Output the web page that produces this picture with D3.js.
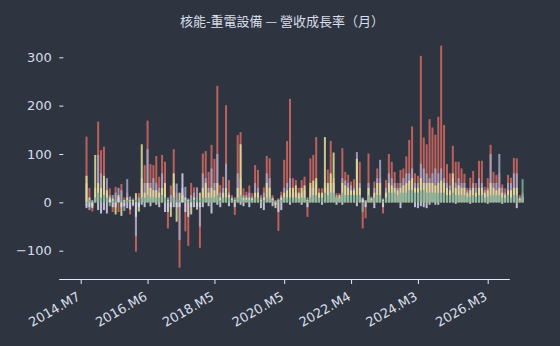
<!DOCTYPE html>
<html>
<head>
<meta charset="utf-8">
<script src="https://cdn.jsdelivr.net/npm/d3@7"></script>
<style>
  body { margin: 0; background: #2e3440; }
  text { font-family: "DejaVu Sans", sans-serif; }
</style>
</head>
<body>
<div id="chart"></div>
<script>
// first month that has data, and the labels under the x axis
const firstMonth = "2014.M9";
const tickLabels = ["2014.M7", "2016.M6", "2018.M5", "2020.M5", "2022.M4", "2024.M3", "2026.M3"];
const yTicks = [-100, 0, 100, 200, 300];

// monthly growth (%) per company
const red = [136, 30, -19, 20, 167, 108, 115, 20, 29, -20,
  32, -20, 38, 10, 20, -25, 8, -102, 19, 30,
  77, 169, 79, 77, 96, 53, 98, 84, -54, 35,
  110, 20, -135, 20, -60, -90, 40, 31, 10, -94,
  101, 106, 63, 119, 90, 241, 36, 53, 201, 46,
  15, -26, 139, 145, 29, 22, 35, 19, 77, 67,
  15, 31, 96, 91, 15, 5, -59, 22, 88, 127,
  214, 50, 46, 30, 46, 53, -30, 91, 98, 135,
  29, 29, 40, 68, 127, 50, 19, 19, 112, 63,
  57, 43, 48, 40, 84, -54, -33, 101, 12, 43,
  70, 50, -23, 46, 100, 84, 63, 40, 67, 70,
  95, 129, 157, 60, 55, 303, 134, 120, 172, 155,
  140, 177, 324, 160, 79, 60, 117, 84, 84, 70,
  59, 30, 51, 65, 40, 86, 86, 32, 50, 119,
  63, 57, 60, 37, 29, 57, 51, 92, 91, 15,
  20];
const purple = [40, -16, 5, 30, 98, 60, 45, 50, 15, 15,
  20, 30, 25, -18, 48, 12, -8, -70, 10, 50,
  40, 110, 40, 50, 40, 30, 60, 20, 10, 15,
  40, 39, -78, 30, 32, 8, 15, 20, 31, -50,
  60, 50, 30, 70, 40, 100, 20, 30, 80, 20,
  10, 10, 60, 50, 15, 15, 20, 12, 40, 30,
  10, 20, 60, 50, 10, 3, 8, 15, 30, 40,
  50, 20, 20, 15, 20, 25, 10, 30, 30, 40,
  15, 15, 30, 30, 40, 40, 15, 10, 50, 45,
  40, 35, 30, 104, 40, 10, 5, 40, 10, 30,
  50, 88, 8, 30, 60, 50, 40, 30, 40, 50,
  60, 60, 70, 40, 40, 80, 70, 60, 50, 60,
  70, 60, 70, 50, 40, 35, 50, 40, 50, 40,
  40, 25, 30, 40, 30, 50, 40, 25, 30, 100,
  40, 40, 100, 30, 20, 40, 40, 60, 60, 10,
  15];
const yellow = [55, 10, -12, 98, 40, 30, 55, 25, 10, 8,
  -25, 15, -28, 5, 10, 5, 5, 19, -19, 120,
  20, 40, 30, 25, 25, 20, 30, 40, 5, -30,
  60, -40, 20, 15, 10, 5, -25, 10, -15, 20,
  30, 40, 20, 30, 25, 40, 10, 20, 30, 15,
  8, 5, 30, 120, 10, 10, 10, 8, 20, 20,
  5, 10, 40, 30, 8, -12, 5, 10, 20, 25,
  30, 30, 35, 20, 30, 35, 5, 40, 45, 50,
  20, 20, 135, 40, 60, 103, 10, 15, 40, 35,
  30, 25, 25, 90, 30, 8, 3, 30, 8, 20,
  40, 40, 5, 20, 40, 35, 30, 25, 30, 35,
  40, 45, 50, 30, 30, 50, 40, 40, 40, 40,
  35, 40, 45, 40, 30, 25, 60, 30, 35, 30,
  30, 20, 25, 30, 20, 30, 30, 20, 25, 40,
  30, 25, 30, 20, 15, 25, 25, 30, 30, 8,
  10];
const teal = [-8, 5, 3, 10, 20, 10, 15, 10, -8, 3,
  5, 5, 5, 3, 5, 3, 2, 5, 5, 10,
  10, 15, 10, 10, 10, 10, 15, 10, 3, 5,
  10, 5, 5, 10, 5, 3, 5, 5, 5, 5,
  10, 10, 10, 10, 10, 15, 5, 10, 10, 10,
  5, 3, 10, 15, 5, 5, 5, 5, 10, 10,
  3, 5, 10, 10, 5, 2, 3, 5, 10, 10,
  10, 10, 10, 8, 10, 10, 3, 10, 15, 15,
  10, 10, 20, 15, 20, 20, 10, 8, 20, 15,
  15, 15, 15, 15, 15, -20, 2, 15, 5, 10,
  15, 15, 3, 10, 20, 20, 20, 15, 20, 20,
  20, 25, 25, 20, 20, 25, 25, 20, 20, 20,
  20, 20, 20, 20, 15, 15, 20, 15, 15, 15,
  15, 12, 12, 15, 12, 15, 15, 10, 12, 15,
  15, 15, 15, 10, 10, 15, 10, 15, 15, 5,
  48];
const gray = [-12, -10, -8, 0, -16, -23, -16, -23, 5, -10,
  -10, 10, -10, -8, -12, -15, -5, -30, -10, -5,
  -10, 0, -8, 0, -5, -10, 0, -20, -20, -10,
  -10, -10, -10, 60, -20, -30, -10, -10, -8, -10,
  -10, 0, -8, -23, 0, -5, -10, 0, 0, -8,
  0, -10, 0, -5, -8, 0, -10, 0, 0, 0,
  -12, -16, 0, 0, -8, -5, -20, -16, 0, 0,
  -5, 0, 0, 0, -5, 0, -10, 0, 0, 0,
  0, -5, 0, 0, 0, 0, -5, 0, -5, 0,
  0, 0, 0, -8, 0, 5, -10, 0, 0, -12,
  0, 0, -10, 0, 0, 0, 0, 0, -12, 0,
  0, 0, 0, -10, -12, -8, -10, -12, -5, 0,
  -5, -5, 0, 0, 0, 0, 0, -3, 0, 0,
  0, 0, -3, 0, 0, 0, 0, 0, -3, 0,
  0, 0, 0, -3, 0, 0, 0, 0, -12, 0,
  0];

const series = [red, purple, yellow, teal, gray];
const colors = ["#d46a62", "#a8a8c8", "#e6e298", "#79b39f", "#d8d8ee"];

// months counted from 2014.M7
function monthIndex(label) {
  let parts = label.split(".M").map(Number);
  return (parts[0] - 2014) * 12 + (parts[1] - 7);
}
let start = monthIndex(firstMonth);
let months = red.map((_, i) => {
  let k = start + i + 6;
  return (2014 + Math.floor(k / 12)) + ".M" + (k % 12 + 1);
});

let width = 560, height = 346;

let x = d3.scaleLinear().domain([0, 140]).range([80.7, 487.7]);
let y = d3.scaleLinear().domain([-100, 300]).range([250.7, 57.3]);

let svg = d3.select("#chart")
    .append("svg")
    .attr("width", width)
    .attr("height", height)
    .style("background", "#2e3440");

svg.append("text")
    .attr("x", 282)
    .attr("y", 26)
    .attr("text-anchor", "middle")
    .style("font-family", "'Noto Sans CJK TC', sans-serif")
    .style("font-size", "13px")
    .attr("fill", "#d8dee9")
    .text("核能-重電設備 — 營收成長率（月）");

// bars, one company over the other
let barW = 2;
series.forEach((values, s) => {
  svg.append("g")
      .attr("fill", colors[s])
      .attr("fill-opacity", 0.85)
      .selectAll("rect")
      .data(values)
      .join("rect")
      .attr("x", (d, i) => x(monthIndex(months[i])) - barW / 2)
      .attr("width", barW)
      .attr("y", d => y(Math.max(0, d)))
      .attr("height", d => Math.abs(y(d) - y(0)));
});

// x axis, spine shorter than the bar range like the original
let xa = x.copy().domain([x.invert(58.7), x.invert(509.3)]).range([58.7, 509.3]);
let xAxis = d3.axisBottom(xa)
    .tickValues(tickLabels.map(monthIndex))
    .tickFormat((d, i) => tickLabels[i])
    .tickSize(5)
    .tickSizeOuter(0);

let gx = svg.append("g")
    .attr("transform", "translate(0,279)")
    .call(xAxis);
gx.select(".domain").attr("stroke", "#e5e9f0");
gx.selectAll(".tick line").attr("stroke", "#e5e9f0");
gx.selectAll(".tick text")
    .attr("y", 0)
    .attr("dy", 0)
    .attr("transform", "translate(0,20) rotate(-30)")
    .attr("text-anchor", "end")
    .attr("fill", "#d8dee9")
    .style("font-size", "13px");

let yAxis = d3.axisLeft(y)
    .tickValues(yTicks)
    .tickSize(4)
    .tickPadding(7.6);

let gy = svg.append("g")
    .attr("transform", "translate(63.3,0)")
    .call(yAxis);
gy.select(".domain").remove();
gy.selectAll(".tick line").attr("stroke", "#e5e9f0");
gy.selectAll(".tick text")
    .attr("fill", "#d8dee9")
    .style("font-size", "13px");
</script>
</body>
</html>
